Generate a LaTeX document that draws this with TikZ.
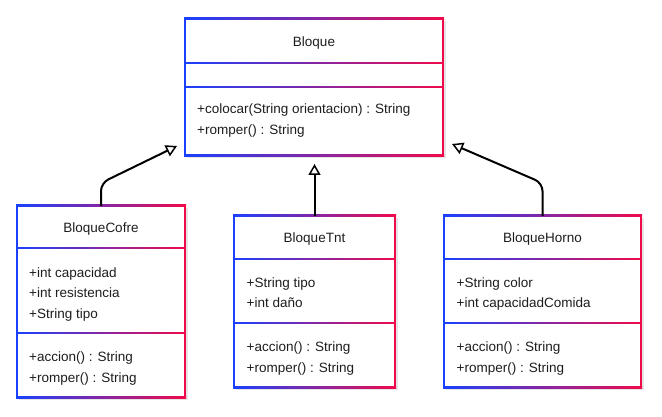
\documentclass[tikz,border=0pt]{standalone}
\usepackage{fontspec}
\setmainfont{Liberation Sans}
\usetikzlibrary{arrows.meta}
\definecolor{cb}{RGB}{25,65,255}
\definecolor{cr}{RGB}{240,10,75}
\definecolor{tx}{RGB}{30,30,30}
\tikzset{
  boxn/.style={draw=none,inner sep=0pt,outer sep=0pt},
  txt/.style={inner sep=0pt,text=tx,font=\fontsize{13.5}{16}\selectfont},
  conn/.style={line width=2pt,black,rounded corners=8pt,-{Triangle[open,length=11pt,width=12pt,line width=1.5pt]}}
}
\newcommand{\umlbox}[5]{%
  \fill[black,opacity=0.10] (#2+1.5,#3+2) rectangle (#4+2.5,#5+2.5);
  \node[boxn,fill=white,minimum width={#4-#2},minimum height={#5-#3},anchor=north west] (#1) at (#2,#3) {};
  \shade[left color=cb,right color=cr] (#2-1,#3-1) rectangle (#4+1,#3+1);
  \shade[left color=cb,right color=cr] (#2-1,#5-1) rectangle (#4+1,#5+1);
  \fill[cb] (#2-1,#3-1) rectangle (#2+1,#5+1);
  \fill[cr] (#4-1,#3-1) rectangle (#4+1,#5+1);
}
\newcommand{\divl}[3]{%
  \shade[left color=cb,right color=cr] (#1,#3-0.8) rectangle (#2,#3+0.8);
}
\begin{document}
\begin{tikzpicture}[x=1pt,y=-1pt]
\fill[white] (0,0) rectangle (662,417);
\useasboundingbox (0,0) rectangle (662,417);

% Bloque
\umlbox{bloque}{185}{19}{443}{156}
\divl{185}{443}{63}
\divl{185}{443}{87}
\node[txt,anchor=base] (bt) at (314,47) {Bloque};
\node[txt,anchor=base west] (bm1) at (197,114) {+colocar(String orientacion) : String};
\node[txt,anchor=base west] (bm2) at (197,135) {+romper() : String};

% BloqueCofre
\umlbox{cofre}{17}{206}{185}{397}
\divl{17}{185}{248}
\divl{17}{185}{333}
\node[txt,anchor=base] (ct) at (101,233) {BloqueCofre};
\node[txt,anchor=base west] (ca1) at (29,277) {+int capacidad};
\node[txt,anchor=base west] (ca2) at (29,297.5) {+int resistencia};
\node[txt,anchor=base west] (ca3) at (29,318) {+String tipo};
\node[txt,anchor=base west] (cm1) at (29,361.5) {+accion() : String};
\node[txt,anchor=base west] (cm2) at (29,382) {+romper() : String};

% BloqueTnt
\umlbox{tnt}{234}{216}{395}{387}
\divl{234}{395}{259}
\divl{234}{395}{323}
\node[txt,anchor=base] (tt) at (314.5,243) {BloqueTnt};
\node[txt,anchor=base west] (ta1) at (246.5,287.5) {+String tipo};
\node[txt,anchor=base west] (ta2) at (246.5,307.5) {+int daño};
\node[txt,anchor=base west] (tm1) at (246.5,351.5) {+accion() : String};
\node[txt,anchor=base west] (tm2) at (246.5,372) {+romper() : String};

% BloqueHorno
\umlbox{horno}{444}{216}{641}{387}
\divl{444}{641}{259}
\divl{444}{641}{323}
\node[txt,anchor=base] (ht) at (542.5,243) {BloqueHorno};
\node[txt,anchor=base west] (ha1) at (456.5,287.5) {+String color};
\node[txt,anchor=base west] (ha2) at (456.5,307.5) {+int capacidadComida};
\node[txt,anchor=base west] (hm1) at (456.5,351.5) {+accion() : String};
\node[txt,anchor=base west] (hm2) at (456.5,372) {+romper() : String};

% connectors
\coordinate (tipc) at (177,146);
\coordinate (tipt) at (314.5,164);
\coordinate (tiph) at (452,144);
\draw[conn] (cofre.north) -- (cofre.north |- 0,183) -- (tipc);
\draw[conn] (tnt.north) -- (tipt);
\draw[conn] (horno.north) -- (horno.north |- 0,183) -- (tiph);
\end{tikzpicture}
\end{document}
